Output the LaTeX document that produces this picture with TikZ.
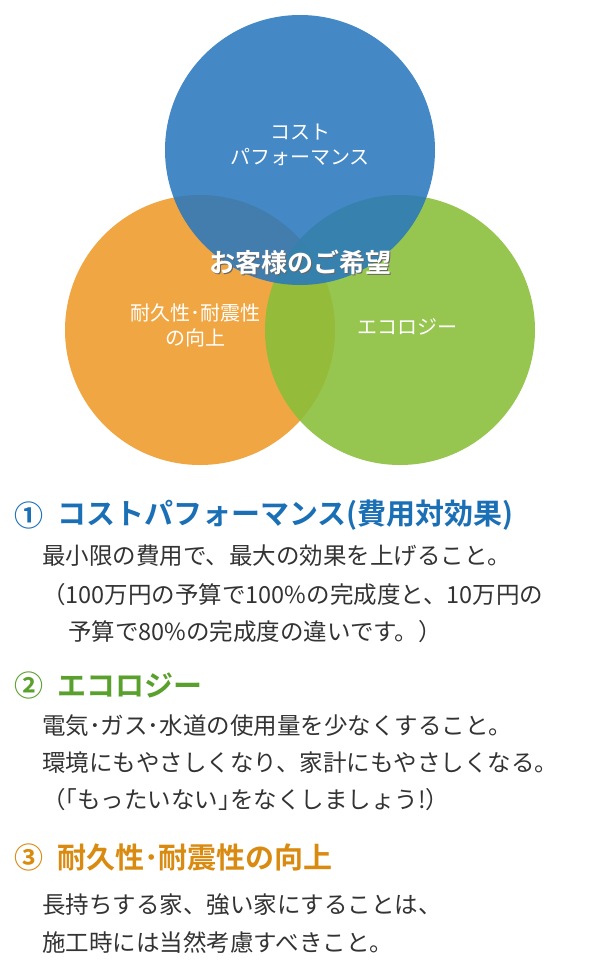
\documentclass[tikz,border=0pt]{standalone}
\usepackage{fontspec}
\newfontfamily\jp{Noto Sans CJK JP}
\newfontfamily\jpb{Noto Sans CJK JP Bold}
\definecolor{cblue}{HTML}{2A78BD}
\definecolor{corange}{HTML}{EE9A28}
\definecolor{cgreen}{HTML}{88BE38}
\definecolor{hblue}{HTML}{1A6FB5}
\definecolor{hgreen}{HTML}{5AA02C}
\definecolor{horange}{HTML}{D98A10}
\definecolor{txt}{HTML}{333333}
\tikzset{
  circ/.style={fill opacity=0.88,draw=none},
  ctext/.style={text=white,align=center,font=\jp\fontsize{20}{25}\selectfont},
  head/.style={anchor=west,font=\jpb\fontsize{29}{32}\selectfont,inner sep=0pt},
  body/.style={anchor=west,text=txt,font=\jp\fontsize{23.5}{26}\selectfont,inner sep=0pt}
}
\begin{document}
\begin{tikzpicture}[x=1pt,y=-1pt]
\useasboundingbox (0,0) rectangle (600,980);
\fill[circ,corange] (200,330) circle (135);
\fill[circ,cgreen] (400,330) circle (135);
\fill[circ,cblue] (300,150) circle (135);
\node[ctext] (cost) at (300,145) {コスト\\パフォーマンス};
\node[ctext] (dur) at (195,325) {耐久性･耐震性\\の向上};
\node[ctext] (eco) at (407,327) {エコロジー};
\node[text=black!60,font=\jpb\fontsize{26}{28}\selectfont] (wishs) at (301.5,263.5) {お客様のご希望};
\node[text=white,font=\jpb\fontsize{26}{28}\selectfont] (wish) at (300,262) {お客様のご希望};
\node[head,text=hblue] (n1) at (14,515) {①};
\node[head,text=hblue] (h1) at (57,515) {コストパフォーマンス(費用対効果)};
\node[body] (b1) at (42,556) {最小限の費用で、最大の効果を上げること。};
\node[body] (b2) at (42,595) {（100万円の予算で100\%の完成度と、10万円の};
\node[body] (b3) at (68,632) {予算で80\%の完成度の違いです。）};
\node[head,text=hgreen] (n2) at (14,685) {②};
\node[head,text=hgreen] (h2) at (57,685) {エコロジー};
\node[body] (b4) at (42,726) {電気･ガス･水道の使用量を少なくすること。};
\node[body] (b5) at (42,763) {環境にもやさしくなり、家計にもやさしくなる。};
\node[body] (b6) at (42,800) {（｢もったいない｣をなくしましょう!）};
\node[head,text=horange] (n3) at (14,857) {③};
\node[head,text=horange] (h3) at (57,857) {耐久性･耐震性の向上};
\node[body] (b7) at (42,905) {長持ちする家、強い家にすることは、};
\node[body] (b8) at (42,942) {施工時には当然考慮すべきこと。};
\end{tikzpicture}
\end{document}
